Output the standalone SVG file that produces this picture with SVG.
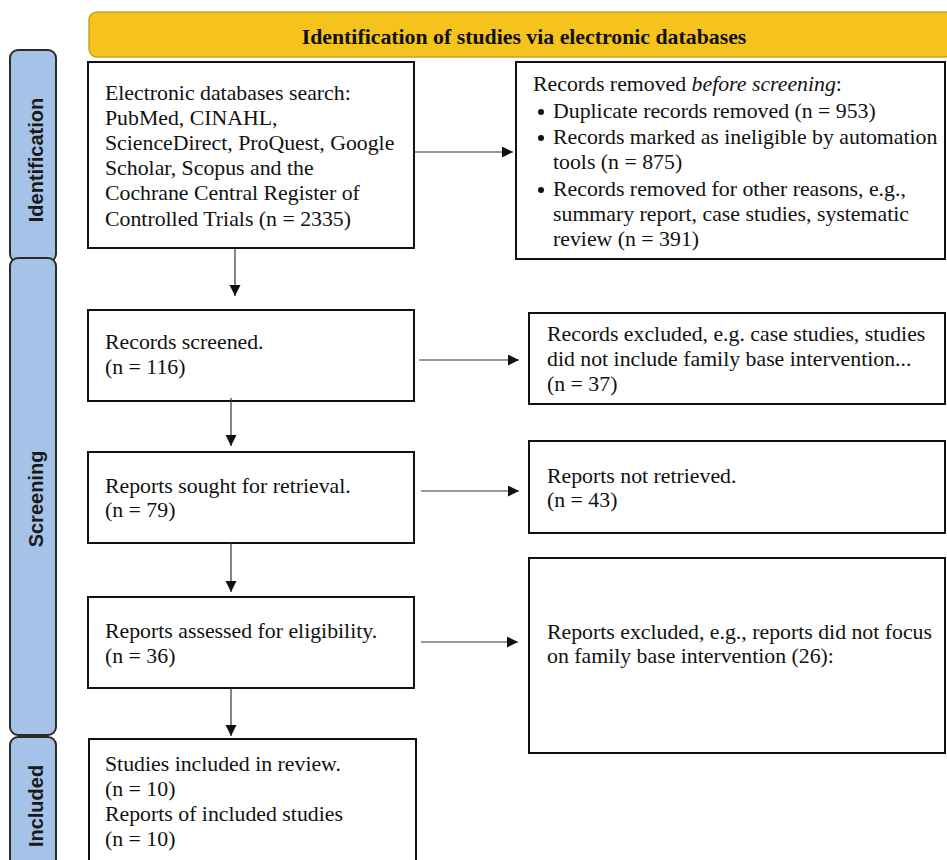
<svg xmlns="http://www.w3.org/2000/svg" width="947" height="860" viewBox="0 0 947 860">
<style>
.box{fill:#fff;stroke:#111;stroke-width:2}
.side{fill:#a5c3e8;stroke:#2b2b2b;stroke-width:2}
.t{font-family:"Liberation Serif","Times New Roman",serif;font-size:21.8px;fill:#111}
.st{font-family:"Liberation Sans",Arial,sans-serif;font-size:20px;font-weight:bold;fill:#1a1a1a;text-anchor:middle}
.ttl{font-family:"Liberation Serif","Times New Roman",serif;font-size:21.8px;font-weight:bold;fill:#111;text-anchor:middle}
.c{stroke:#333;stroke-width:1.2;fill:none}
</style>
<defs>
<marker id="ah" markerWidth="12" markerHeight="12" refX="11" refY="5.5" orient="auto" markerUnits="userSpaceOnUse">
<path d="M0,0 L11,5.5 L0,11 Z" fill="#111"/>
</marker>
</defs>
<g id="banner">
<rect x="89" y="12" width="870" height="45" rx="8" fill="#f6c21c" stroke="#c9a331" stroke-width="1.5"/>
<text class="ttl" x="524" y="44">Identification of studies via electronic databases</text>
</g>
<g id="side-identification">
<rect class="side" x="10" y="50" width="46" height="212" rx="8"/>
<text class="st" transform="translate(43,160) rotate(-90)">Identification</text>
</g>
<g id="side-screening">
<rect class="side" x="10" y="258" width="46" height="477" rx="8"/>
<text class="st" transform="translate(43,499) rotate(-90)">Screening</text>
</g>
<g id="side-included">
<rect class="side" x="10" y="737" width="46" height="140" rx="8"/>
<text class="st" transform="translate(43,806) rotate(-90)">Included</text>
</g>
<g id="box-search">
<rect class="box" x="88" y="62" width="326" height="186"/>
<text class="t" x="105" y="100">Electronic databases search:</text>
<text class="t" x="105" y="125">PubMed, CINAHL,</text>
<text class="t" x="105" y="150">ScienceDirect, ProQuest, Google</text>
<text class="t" x="105" y="175">Scholar, Scopus and the</text>
<text class="t" x="105" y="200">Cochrane Central Register of</text>
<text class="t" x="105" y="226">Controlled Trials (n = 2335)</text>
</g>
<g id="box-removed">
<rect class="box" x="516" y="62" width="429" height="197"/>
<text class="t" x="533" y="91">Records removed <tspan font-style="italic">before screening</tspan>:</text>
<circle cx="541" cy="112" r="3" fill="#111"/>
<text class="t" x="553" y="118">Duplicate records removed (n = 953)</text>
<circle cx="541" cy="138" r="3" fill="#111"/>
<text class="t" x="553" y="144">Records marked as ineligible by automation</text>
<text class="t" x="553" y="169">tools (n = 875)</text>
<circle cx="541" cy="190" r="3" fill="#111"/>
<text class="t" x="553" y="196">Records removed for other reasons, e.g.,</text>
<text class="t" x="553" y="221">summary report, case studies, systematic</text>
<text class="t" x="553" y="246">review (n = 391)</text>
</g>
<g id="box-screened">
<rect class="box" x="88" y="310" width="326" height="91"/>
<text class="t" x="105" y="349">Records screened.</text>
<text class="t" x="105" y="374">(n = 116)</text>
</g>
<g id="box-excluded">
<rect class="box" x="529" y="313" width="416" height="91"/>
<text class="t" x="547" y="341">Records excluded, e.g. case studies, studies</text>
<text class="t" x="547" y="366">did not include family base intervention...</text>
<text class="t" x="547" y="391">(n = 37)</text>
</g>
<g id="box-sought">
<rect class="box" x="88" y="452" width="326" height="91"/>
<text class="t" x="105" y="493">Reports sought for retrieval.</text>
<text class="t" x="105" y="517">(n = 79)</text>
</g>
<g id="box-notretrieved">
<rect class="box" x="529" y="441" width="416" height="92"/>
<text class="t" x="547" y="483">Reports not retrieved.</text>
<text class="t" x="547" y="507">(n = 43)</text>
</g>
<g id="box-assessed">
<rect class="box" x="88" y="597" width="326" height="91"/>
<text class="t" x="105" y="638">Reports assessed for eligibility.</text>
<text class="t" x="105" y="663">(n = 36)</text>
</g>
<g id="box-reportsexcluded">
<rect class="box" x="529" y="558" width="416" height="195"/>
<text class="t" x="547" y="639">Reports excluded, e.g., reports did not focus</text>
<text class="t" x="547" y="663">on family base intervention (26):</text>
</g>
<g id="box-included">
<rect class="box" x="89" y="739" width="327" height="140"/>
<text class="t" x="105" y="771">Studies included in review.</text>
<text class="t" x="105" y="796">(n = 10)</text>
<text class="t" x="105" y="821">Reports of included studies</text>
<text class="t" x="105" y="846">(n = 10)</text>
</g>
<g id="connectors">
<line class="c" x1="414" y1="152" x2="513" y2="152" marker-end="url(#ah)"/>
<line class="c" x1="235" y1="249" x2="235" y2="296" marker-end="url(#ah)"/>
<line class="c" x1="419" y1="360" x2="519" y2="360" marker-end="url(#ah)"/>
<line class="c" x1="231" y1="398" x2="231" y2="446" marker-end="url(#ah)"/>
<line class="c" x1="421" y1="491" x2="519" y2="491" marker-end="url(#ah)"/>
<line class="c" x1="231" y1="543" x2="231" y2="592" marker-end="url(#ah)"/>
<line class="c" x1="421" y1="642" x2="518" y2="642" marker-end="url(#ah)"/>
<line class="c" x1="231" y1="688" x2="231" y2="736" marker-end="url(#ah)"/>
</g>
</svg>
